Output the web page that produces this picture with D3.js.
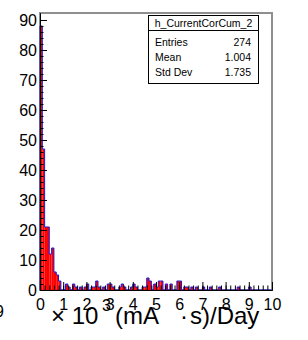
<!DOCTYPE html>
<meta charset="utf-8">
<style>body{margin:0;background:#fff}</style>
<svg width="308" height="340"></svg>
<script src="https://d3js.org/d3.v7.min.js"></script>
<script>

// bin contents, 100 bins over [0,10]
var counts = [
  88, 47, 21, 21, 12, 14, 6, 5, 3, 0,
  0, 2, 1, 0, 2, 1, 0, 1, 0, 1,
  2, 0, 1, 1, 3, 1, 0, 1, 0, 2,
  2, 1, 0, 0, 1, 2, 1, 0, 0, 1,
  2, 1, 0, 0, 1, 1, 4, 3, 0, 2,
  1, 3, 3, 0, 2, 0, 2, 0, 0, 3,
  3, 0, 1, 1, 0, 1, 0, 1, 0, 0,
  1, 0, 0, 1, 0, 0, 0, 1, 0, 0,
  0, 0, 0, 0, 0, 1, 0, 0, 0, 0,
  1, 0, 0, 0, 0, 0, 0, 0, 0, 0
];
var xRange = [0, 10];
var yMax = 92.33;
var xTicks = [0, 1, 2, 3, 4, 5, 6, 7, 8, 9, 10];
var yTicks = [0, 10, 20, 30, 40, 50, 60, 70, 80, 90];
var statsTitle = "h_CurrentCorCum_2";
var statsNames = ["Entries", "Mean", "Std Dev"];
var statsValues = ["274", "1.004", "1.735"];

var svg = d3.select("svg"),
    fL = 40, fR = 272, fT = 13, fB = 290,
    font = "'Liberation Sans', Arial, Helvetica, sans-serif";

var x = d3.scaleLinear().domain(xRange).range([fL, fR]);
var y = d3.scaleLinear().domain([0, yMax]).range([fB, fT]);
var bw = (xRange[1] - xRange[0]) / counts.length;

// frame
svg.append("rect")
    .attr("x", fL).attr("y", fT)
    .attr("width", fR - fL).attr("height", fB - fT)
    .attr("fill", "none").attr("stroke", "#8f8f8f").attr("stroke-width", 2);

// filled bins
svg.append("g").selectAll("rect")
    .data(counts)
  .enter().append("rect")
    .attr("x", function(d, i) { return x(i * bw); })
    .attr("width", function(d, i) { return x((i + 1) * bw) - x(i * bw); })
    .attr("y", function(d) { return y(d); })
    .attr("height", function(d) { return y(0) - y(d); })
    .attr("fill", "#ff0000");

// outline
var pts = [[0, 0]];
counts.forEach(function(c, i) { pts.push([i * bw, c]); });
pts.push([xRange[1], 0]);
var line = d3.line()
    .x(function(d) { return x(d[0]); })
    .y(function(d) { return y(d[1]); })
    .curve(d3.curveStepAfter);
svg.append("path")
    .attr("d", line(pts))
    .attr("fill", "none")
    .attr("stroke", "#1c1cd8")
    .attr("stroke-width", 1);

// axes
function style(g) {
  g.select(".domain").attr("stroke", "#000");
  g.selectAll(".tick line").attr("stroke", "#000");
  g.selectAll("text").attr("font-family", font).attr("font-size", 16).attr("fill", "#000");
}

svg.append("g")
    .attr("transform", "translate(" + fL + ",0)")
    .call(d3.axisLeft(y).tickValues(d3.range(0, 92, 2)).tickSize(-3.5).tickFormat("").tickSizeOuter(0))
    .call(style);
svg.append("g")
    .attr("transform", "translate(" + fL + ",0)")
    .call(d3.axisLeft(y).tickValues(yTicks).tickSize(-7).tickPadding(3).tickSizeOuter(0))
    .call(style);

svg.append("g")
    .attr("transform", "translate(0," + fB + ")")
    .call(d3.axisBottom(x).tickValues(d3.range(0, 10.01, 0.2)).tickSize(-4.5).tickFormat("").tickSizeOuter(0))
    .call(style);
svg.append("g")
    .attr("transform", "translate(0," + fB + ")")
    .call(d3.axisBottom(x).tickValues(xTicks).tickSize(-8).tickPadding(9).tickSizeOuter(0))
    .call(style);

// x title
var tt = svg.append("g")
    .attr("font-family", font).attr("fill", "#000");
tt.append("text").attr("x", 51).attr("y", 324).attr("font-size", 24).text("\u00d7 10");
tt.append("text").attr("x", 102).attr("y", 311).attr("font-size", 16).text("3");
tt.append("text").attr("x", 115).attr("y", 324).attr("font-size", 24).text("(mA");
tt.append("text").attr("x", 180).attr("y", 324).attr("font-size", 24).text("\u00b7");
tt.append("text").attr("x", 190).attr("y", 324).attr("font-size", 24).text("s)/Day");

svg.append("text")
    .attr("x", 4).attr("y", 317)
    .attr("text-anchor", "end")
    .attr("font-family", font).attr("font-size", 16)
    .text("9");

// stats box
var sb = svg.append("g").attr("font-family", font).attr("font-size", 10.5).attr("fill", "#000");
sb.append("rect")
    .attr("x", 148.5).attr("y", 15.5).attr("width", 110).attr("height", 68)
    .attr("fill", "#fff").attr("stroke", "#000").attr("stroke-width", 1);
sb.append("line")
    .attr("x1", 148.5).attr("x2", 258.5).attr("y1", 30.5).attr("y2", 30.5)
    .attr("stroke", "#000");
sb.append("text")
    .attr("x", 203.5).attr("y", 26.5)
    .attr("text-anchor", "middle")
    .text(statsTitle);
statsNames.forEach(function(n, i) {
  sb.append("text").attr("x", 155).attr("y", 45.5 + i * 15).text(n);
  sb.append("text").attr("x", 251).attr("y", 45.5 + i * 15).attr("text-anchor", "end").text(statsValues[i]);
});

</script>
